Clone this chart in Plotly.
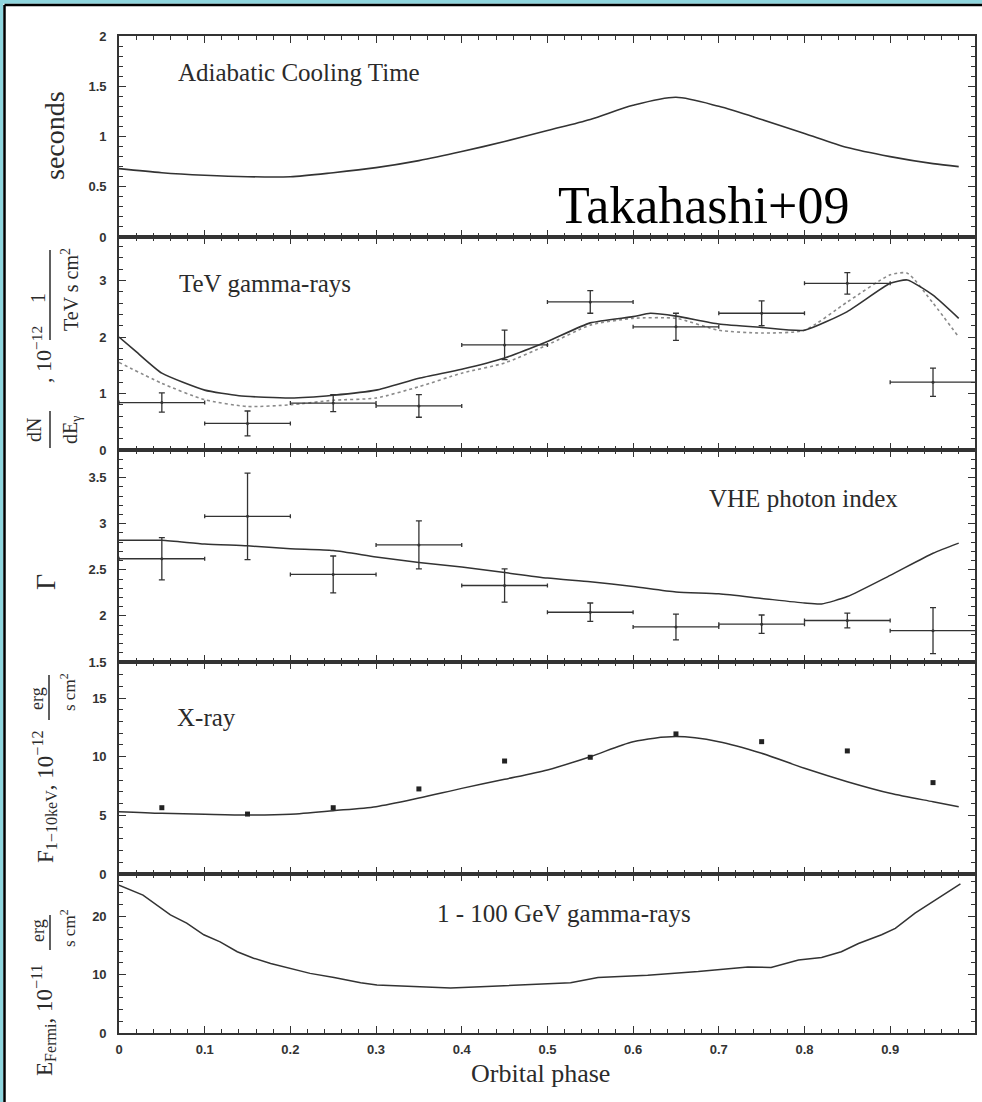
import plotly.graph_objects as go

# ---------------- data ----------------
# Panel 1: adiabatic cooling time (seconds)
cool_phase = [0, 0.05, 0.1, 0.15, 0.2, 0.25, 0.3, 0.35, 0.4, 0.45, 0.5, 0.55, 0.6, 0.65, 0.7, 0.75, 0.8, 0.85, 0.9, 0.95, 0.98]
cool_time = [0.68, 0.64, 0.615, 0.60, 0.60, 0.64, 0.69, 0.76, 0.85, 0.95, 1.06, 1.17, 1.31, 1.39, 1.30, 1.17, 1.03, 0.89, 0.80, 0.73, 0.70]

# Panel 2: TeV gamma-rays
tev_model_phase = [0, 0.02, 0.05, 0.1, 0.14, 0.2, 0.25, 0.3, 0.35, 0.4, 0.45, 0.5, 0.55, 0.6, 0.62, 0.65, 0.7, 0.75, 0.8, 0.85, 0.9, 0.92, 0.95, 0.98]
tev_model = [2.0, 1.74, 1.36, 1.06, 0.96, 0.92, 0.97, 1.06, 1.27, 1.43, 1.63, 1.92, 2.25, 2.36, 2.42, 2.37, 2.23, 2.17, 2.12, 2.45, 2.95, 3.01, 2.74, 2.33]
tev_alt_phase = [0, 0.05, 0.1, 0.15, 0.2, 0.25, 0.3, 0.35, 0.4, 0.45, 0.5, 0.55, 0.6, 0.65, 0.7, 0.75, 0.8, 0.85, 0.9, 0.92, 0.95, 0.98]
tev_alt = [1.55, 1.18, 0.89, 0.77, 0.80, 0.88, 0.92, 1.12, 1.36, 1.54, 1.86, 2.21, 2.33, 2.33, 2.12, 2.07, 2.12, 2.62, 3.10, 3.13, 2.60, 2.0]
bin_phase = [0.05, 0.15, 0.25, 0.35, 0.45, 0.55, 0.65, 0.75, 0.85, 0.95]
bin_halfwidth = 0.05
tev_flux = [0.84, 0.47, 0.83, 0.78, 1.86, 2.62, 2.18, 2.42, 2.95, 1.20]
tev_flux_err = [0.17, 0.22, 0.15, 0.20, 0.26, 0.20, 0.24, 0.22, 0.19, 0.25]

# Panel 3: VHE photon index
idx_model_phase = [0, 0.05, 0.1, 0.15, 0.2, 0.25, 0.3, 0.35, 0.4, 0.45, 0.5, 0.55, 0.6, 0.65, 0.7, 0.75, 0.8, 0.82, 0.85, 0.9, 0.95, 0.98]
idx_model = [2.82, 2.82, 2.78, 2.76, 2.73, 2.71, 2.64, 2.58, 2.53, 2.47, 2.41, 2.37, 2.32, 2.26, 2.24, 2.19, 2.14, 2.13, 2.21, 2.44, 2.68, 2.79]
idx_data = [2.62, 3.08, 2.45, 2.77, 2.33, 2.04, 1.88, 1.91, 1.95, 1.84]
idx_err = [0.23, 0.47, 0.20, 0.26, 0.18, 0.10, 0.14, 0.10, 0.08, 0.25]

# Panel 4: X-ray flux 1-10 keV
xr_model_phase = [0, 0.05, 0.1, 0.15, 0.2, 0.25, 0.3, 0.35, 0.4, 0.45, 0.5, 0.55, 0.6, 0.65, 0.7, 0.75, 0.8, 0.85, 0.9, 0.95, 0.98]
xr_model = [5.31, 5.17, 5.09, 5.03, 5.10, 5.40, 5.74, 6.47, 7.30, 8.07, 8.87, 10.0, 11.28, 11.71, 11.28, 10.29, 9.01, 7.87, 6.88, 6.16, 5.74]
xr_data = [5.65, 5.11, 5.65, 7.25, 9.63, 9.95, 11.94, 11.28, 10.49, 7.79]

# Panel 5: 1-100 GeV gamma-rays
gev_phase = [0, 0.028, 0.06, 0.079, 0.099, 0.118, 0.138, 0.157, 0.177, 0.2, 0.223, 0.251, 0.282, 0.301, 0.348, 0.387,
             0.422, 0.473, 0.527, 0.559, 0.617, 0.676, 0.734, 0.761, 0.793, 0.82, 0.843, 0.863, 0.89, 0.906, 0.929, 0.982]
gev_flux = [25.3, 23.6, 20.2, 18.8, 16.8, 15.6, 13.9, 12.8, 11.9, 11.0, 10.2, 9.5, 8.6, 8.2, 7.9, 7.7,
            7.9, 8.2, 8.6, 9.5, 9.9, 10.5, 11.3, 11.2, 12.5, 12.9, 13.9, 15.3, 16.8, 17.9, 20.5, 25.5]

panel_titles = ["Adiabatic Cooling Time", "TeV gamma-rays", "VHE photon index", "X-ray", "1 - 100 GeV gamma-rays"]

# ---------------- layout helpers ----------------
W, H = 982, 1102


def px(x):
    return x / W


def py(y):
    return 1 - y / H


LINE = "#333333"
SERIF = "Liberation Serif"
TXT = "#2b2b2b"
CYAN = "#8fd6de"

fig = go.Figure()

# Panel 1
fig.add_trace(go.Scatter(x=cool_phase, y=cool_time, mode="lines", line=dict(color=LINE, width=1.6, shape="spline", smoothing=0.8),
                         xaxis="x", yaxis="y", showlegend=False))
# Panel 2
fig.add_trace(go.Scatter(x=tev_alt_phase, y=tev_alt, mode="lines", line=dict(color="#8a8a8a", width=1.6, dash="dot", shape="spline", smoothing=0.6),
                         xaxis="x2", yaxis="y2", showlegend=False))
fig.add_trace(go.Scatter(x=tev_model_phase, y=tev_model, mode="lines", line=dict(color=LINE, width=1.6, shape="spline", smoothing=0.5),
                         xaxis="x2", yaxis="y2", showlegend=False))
fig.add_trace(go.Scatter(x=bin_phase, y=tev_flux, mode="markers", marker=dict(color=LINE, size=3),
                         error_x=dict(type="constant", value=bin_halfwidth, color=LINE, thickness=1.3, width=2),
                         error_y=dict(type="data", array=tev_flux_err, color=LINE, thickness=1.3, width=3),
                         xaxis="x2", yaxis="y2", showlegend=False))
# Panel 3
fig.add_trace(go.Scatter(x=idx_model_phase, y=idx_model, mode="lines", line=dict(color=LINE, width=1.5, shape="spline", smoothing=0.6),
                         xaxis="x3", yaxis="y3", showlegend=False))
fig.add_trace(go.Scatter(x=bin_phase, y=idx_data, mode="markers", marker=dict(color=LINE, size=3),
                         error_x=dict(type="constant", value=bin_halfwidth, color=LINE, thickness=1.3, width=2),
                         error_y=dict(type="data", array=idx_err, color=LINE, thickness=1.3, width=3),
                         xaxis="x3", yaxis="y3", showlegend=False))
# Panel 4
fig.add_trace(go.Scatter(x=xr_model_phase, y=xr_model, mode="lines", line=dict(color=LINE, width=1.5, shape="spline", smoothing=0.8),
                         xaxis="x4", yaxis="y4", showlegend=False))
fig.add_trace(go.Scatter(x=bin_phase, y=xr_data, mode="markers", marker=dict(color="#222", size=5, symbol="square"),
                         xaxis="x4", yaxis="y4", showlegend=False))
# Panel 5
fig.add_trace(go.Scatter(x=gev_phase, y=gev_flux, mode="lines", line=dict(color=LINE, width=1.5),
                         xaxis="x5", yaxis="y5", showlegend=False))

# ---------------- axes ----------------
tickfont = dict(family="Liberation Sans", size=13, color="#333", weight="bold")
common = dict(showline=True, linecolor=LINE, linewidth=1.6, mirror="ticks", ticks="inside", ticklen=7,
              tickwidth=1.3, tickcolor=LINE, showgrid=False, zeroline=False, tickfont=tickfont, automargin=False)

panel_px = [(36, 237), (237, 450), (450, 662), (662, 874), (874, 1033)]
y_ranges = [[0, 2], [0, 3.77], [1.5, 3.8], [0, 18.07], [0, 27.2]]
y_dtick = [0.5, 1, 0.5, 5, 10]
y_minor = [0.1, 0.2, 0.1, 1, 2]
y_tick0 = [0, 0, 1.5, 0, 0]

layout = {}
for i in range(5):
    sfx = "" if i == 0 else str(i + 1)
    top, bot = panel_px[i]
    layout["xaxis" + sfx] = dict(common, domain=[px(119), px(975)], range=[0, 0.999], dtick=0.1, tick0=0,
                                 anchor="y" + sfx, showticklabels=(i == 4), ticklabelstandoff=4,
                                 minor=dict(ticks="inside", ticklen=4, tickwidth=1, tickcolor=LINE, dtick=0.02, tick0=0, showgrid=False))
    layout["yaxis" + sfx] = dict(common, domain=[py(bot), py(top)], range=y_ranges[i], dtick=y_dtick[i], tick0=y_tick0[i],
                                 anchor="x" + sfx, ticklabelstandoff=8,
                                 minor=dict(ticks="inside", ticklen=4, tickwidth=1, tickcolor=LINE, dtick=y_minor[i], tick0=y_tick0[i], showgrid=False))


def ann(text, x, y, size, angle=0, color=TXT, family=SERIF):
    return dict(text=text, x=px(x), y=py(y), xref="paper", yref="paper", xanchor="center", yanchor="middle",
                showarrow=False, textangle=angle, font=dict(family=family, size=size, color=color))


annotations = [
    ann(panel_titles[0], 299, 72, 25),
    ann(panel_titles[1], 265, 283, 25),
    ann(panel_titles[2], 803, 498, 25),
    ann(panel_titles[3], 206, 717, 25),
    ann(panel_titles[4], 564, 913, 25),
    ann("Takahashi+09", 703, 205, 52, color="#000"),
    ann("Orbital phase", 540, 1073, 26),
    # y labels
    ann("seconds", 55, 136, 28, -90),
    ann("dN", 34, 430, 20, -90),
    ann("dE<sub>γ</sub>", 72, 430, 20, -90),
    ann(", 10<sup>−12</sup>", 42, 355, 22, -90),
    ann("1", 38, 298, 20, -90),
    ann("TeV s cm<sup>2</sup>", 70, 290, 20, -90),
    ann("Γ", 45, 582, 28, -90),
    ann("F<sub>1−10keV</sub>, 10<sup>−12</sup>", 44, 797, 23, -90),
    ann("erg", 37, 699, 18, -90),
    ann("s cm<sup>2</sup>", 68, 692, 17, -90),
    ann("E<sub>Fermi</sub>, 10<sup>−11</sup>", 44, 1020, 23, -90),
    ann("erg", 38, 931, 18, -90),
    ann("s cm<sup>2</sup>", 68, 928, 17, -90),
]


def vbar(x, y0, y1):
    return dict(type="line", xref="paper", yref="paper", x0=px(x), x1=px(x), y0=py(y0), y1=py(y1),
                line=dict(color=TXT, width=1.5))


shapes = [
    # cyan slide background visible along the top and left edges
    dict(type="rect", xref="paper", yref="paper", x0=-0.01, x1=1.01, y0=py(3.8), y1=1.01,
         fillcolor=CYAN, line=dict(width=0), layer="below"),
    dict(type="rect", xref="paper", yref="paper", x0=-0.01, x1=px(3.3), y0=-0.01, y1=1.01,
         fillcolor=CYAN, line=dict(width=0), layer="below"),
    # black frame on the left and top of the white slide panel
    dict(type="line", xref="paper", yref="paper", x0=px(4.5), x1=1.01, y0=py(5), y1=py(5),
         line=dict(color="black", width=2.5), layer="below"),
    dict(type="line", xref="paper", yref="paper", x0=px(4.5), x1=px(4.5), y0=-0.01, y1=py(5),
         line=dict(color="black", width=2.5), layer="below"),
    vbar(50, 411, 448),
    vbar(50, 250, 340),
    vbar(49, 675, 720),
    vbar(50, 915, 950),
]

fig.update_layout(
    width=W, height=H, margin=dict(l=0, r=0, t=0, b=0, pad=0), autosize=False,
    paper_bgcolor="white", plot_bgcolor="white",
    annotations=annotations, shapes=shapes, showlegend=False,
    **layout,
)

fig.write_html("out.html", config={"displayModeBar": False},
               post_script=("document.documentElement.style.overflow='hidden';"
                            "document.body.style.overflow='hidden';"
                            "document.body.style.margin='0';document.body.style.padding='0';"))
